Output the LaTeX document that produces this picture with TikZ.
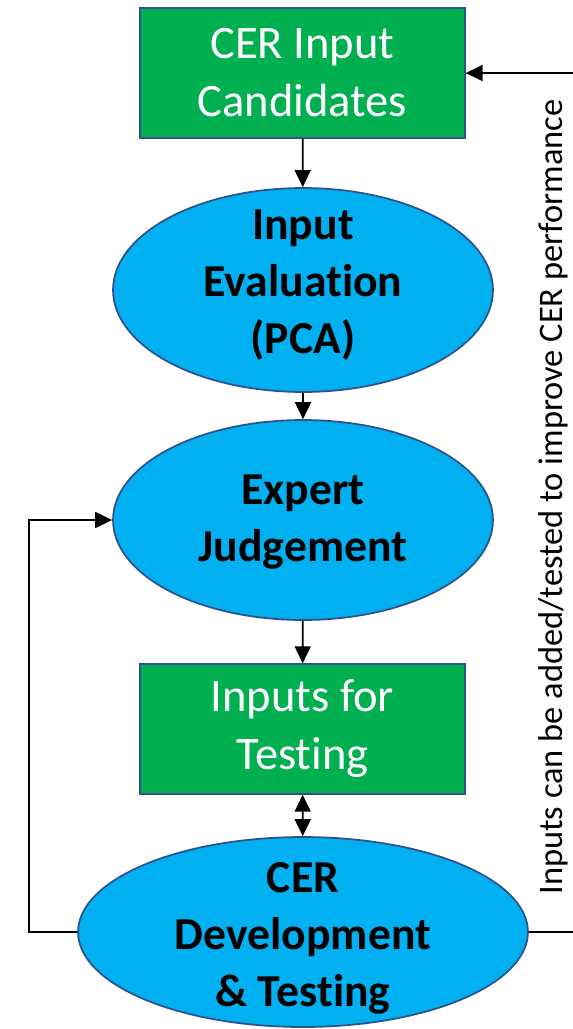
\documentclass[tikz,border=0pt]{standalone}
\usepackage{fontspec}
\setmainfont{Carlito}[Ligatures=NoCommon]
\usetikzlibrary{arrows.meta, positioning, shapes.geometric}
\definecolor{cgreen}{HTML}{00B050}
\definecolor{cblue}{HTML}{00B0F0}
\definecolor{cedge}{HTML}{2F528F}

\tikzset{
  inbox/.style={rectangle, fill=cgreen, draw=cedge, line width=0.8pt, text=white,
    minimum width=6.5cm, minimum height=2.6cm, inner sep=0pt, align=center,
    font=\fontsize{26.5}{33}\selectfont},
  stepell/.style={ellipse, fill=cblue, draw=cedge, line width=1pt, inner sep=0pt},
  steptxt/.style={align=center, inner sep=0pt, font=\fontsize{26}{32.5}\selectfont\bfseries},
  flow/.style={line width=1pt, -{Triangle[length=0.34cm, width=0.32cm]}}
}

\begin{document}
\begin{tikzpicture}[x=0.02cm, y=-0.02cm]
  \useasboundingbox (0,0) rectangle (573,1029);

  % boxes
  \node[inbox] (cand) at (302.5,73) {CER Input\\Candidates};
  \node[inbox] (test) at (302.5,729) {Inputs for\\Testing};

  % ellipses
  \node[stepell, minimum width=7.6cm, minimum height=4.08cm] (pca) at (303,290) {};
  \node[steptxt] (pca-txt) at (303,285) {Input\\Evaluation\\(PCA)};
  \node[stepell, minimum width=7.6cm, minimum height=4cm] (expert) at (303,520) {};
  \node[steptxt] (expert-txt) at (303,522) {Expert\\Judgement};
  \node[stepell, minimum width=9cm, minimum height=3.8cm] (devel) at (303,932) {};
  \node[steptxt] (devel-txt) at (303,938) {CER\\Development\\\& Testing};

  % main flow
  \draw[flow] (cand) -- (pca);
  \draw[flow] (pca) -- (expert);
  \draw[flow] (expert) -- (test);
  \draw[line width=1pt, {Triangle[length=0.34cm, width=0.32cm]}-{Triangle[length=0.34cm, width=0.32cm]}] (test) -- (devel);

  % feedback loops
  \draw[flow] (devel.west) -- ++(-48,0) |- (expert.west);
  \draw[flow] (devel.east) -- ++(60,0) |- (cand.east);

  \node[rotate=90, inner sep=0pt, font=\fontsize{19.6}{23}\selectfont] (note) at (553,497)
    {Inputs can be added/tested to improve CER performance};
\end{tikzpicture}
\end{document}
